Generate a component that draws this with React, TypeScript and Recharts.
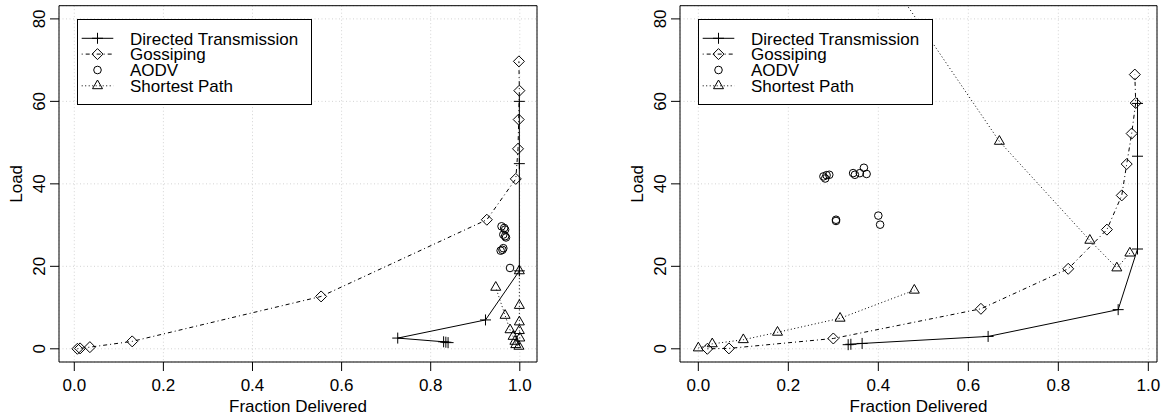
import React from 'react';
import { ScatterChart, Scatter, XAxis, YAxis, CartesianGrid, ReferenceArea, Legend } from 'recharts';

const FONT = '"Liberation Sans", Arial, Helvetica, sans-serif';
const FS = 17;

// ---- ticks / labels ----
const xTicks = [0, 0.2, 0.4, 0.6, 0.8, 1.0];
const yTicks = [0, 20, 40, 60, 80];
const legendLabels = ['Directed Transmission', 'Gossiping', 'AODV', 'Shortest Path'];
const xTitle = 'Fraction Delivered';
const yTitle = 'Load';

// ---- left panel data ----
const dtLeftX = [0.839, 0.834, 0.829, 0.726, 0.923, 0.999, 0.999, 0.999];
const dtLeftY = [1.5, 1.6, 1.7, 2.6, 7.0, 18.9, 44.9, 60.0];
const gosLeftX = [0.007, 0.013, 0.035, 0.13, 0.554, 0.926, 0.991, 0.996, 0.9975, 0.999, 0.998];
const gosLeftY = [0.0, 0.1, 0.4, 1.8, 12.7, 31.3, 41.2, 48.5, 55.6, 62.6, 69.7];
const aodvLeftX = [0.959, 0.965, 0.967, 0.963, 0.969, 0.967, 0.963, 0.961, 0.957, 0.978];
const aodvLeftY = [29.7, 29.3, 28.9, 27.7, 27.0, 27.3, 24.4, 24.0, 23.8, 19.6];
const spLeftX = [0.999, 0.999, 0.999, 0.999, 1.0, 0.998, 0.991, 0.989, 0.985, 0.978, 0.967, 0.946];
const spLeftY = [18.9, 10.5, 6.5, 4.4, 2.6, 0.6, 1.0, 1.8, 3.0, 4.6, 8.1, 14.9];

// ---- right panel data ----
const dtRightX = [0.333, 0.339, 0.364, 0.644, 0.933, 0.976, 0.976, 0.976];
const dtRightY = [1.0, 1.1, 1.3, 3.0, 9.5, 24.2, 46.7, 59.5];
const gosRightX = [0.02, 0.068, 0.3, 0.628, 0.822, 0.908, 0.941, 0.952, 0.963, 0.972, 0.97];
const gosRightY = [0.0, 0.1, 2.5, 9.7, 19.4, 28.9, 37.2, 44.8, 52.2, 59.6, 66.5];
const aodvRightX = [0.278, 0.285, 0.291, 0.282, 0.344, 0.359, 0.368, 0.374, 0.348, 0.306, 0.306, 0.4, 0.404];
const aodvRightY = [41.8, 42.1, 42.2, 41.3, 42.6, 42.6, 43.9, 42.4, 42.2, 31.3, 31.0, 32.3, 30.1];
const spRightAX = [0.0, 0.031, 0.1, 0.176, 0.315, 0.48];
const spRightAY = [0.2, 1.2, 2.2, 4.0, 7.4, 14.2];
const spRightBX = [0.959, 0.93, 0.87, 0.669, 0.36];
const spRightBY = [23.2, 19.6, 26.3, 50.3, 100];

const toPts = (xs: number[], ys: number[]) => xs.map((x, i) => ({ x, y: ys[i] }));

// ---- marker shapes ----
const Plus = (p: any) => (
  <path d={`M${p.cx - 5.5},${p.cy}H${p.cx + 5.5}M${p.cx},${p.cy - 5.5}V${p.cy + 5.5}`} stroke="#000" strokeWidth={1} fill="none" />
);
const Diamond = (p: any) => (
  <path d={`M${p.cx},${p.cy - 5.5}L${p.cx + 5.5},${p.cy}L${p.cx},${p.cy + 5.5}L${p.cx - 5.5},${p.cy}Z`} stroke="#000" strokeWidth={1} fill="none" />
);
const Circ = (p: any) => <circle cx={p.cx} cy={p.cy} r={3.8} stroke="#000" strokeWidth={1} fill="none" />;
const Tri = (p: any) => (
  <path d={`M${p.cx},${p.cy - 5.8}L${p.cx + 5},${p.cy + 2.9}L${p.cx - 5},${p.cy + 2.9}Z`} stroke="#000" strokeWidth={1} fill="none" />
);

const DASHDOT = '1 3 4 3';
const DOT = '1 2.5';

const TOP = 5.7;
const BOTTOM = 362;
const W = 583;
const H = 418;
const Y_DOMAIN: [number, number] = [-3.2, 83.2];

function LegendBox() {
  const rows = [19.3, 35.1, 51, 66.8];
  const base = [25.5, 41.3, 57.2, 73];
  return (
    <svg width={236} height={87} style={{ display: 'block' }}>
      <rect x={0.5} y={0.5} width={234} height={85} fill="#fff" stroke="#000" strokeWidth={1} />
      <line x1={4.7} x2={36.3} y1={rows[0]} y2={rows[0]} stroke="#000" strokeWidth={1} />
      <Plus cx={20.5} cy={rows[0]} />
      <line x1={4.7} x2={36.3} y1={rows[1]} y2={rows[1]} stroke="#000" strokeWidth={1} strokeDasharray={DASHDOT} />
      <Diamond cx={20.5} cy={rows[1]} />
      <Circ cx={20.5} cy={rows[2]} />
      <line x1={4.7} x2={36.3} y1={rows[3]} y2={rows[3]} stroke="#000" strokeWidth={1} strokeDasharray={DOT} />
      <Tri cx={20.5} cy={rows[3]} />
      {legendLabels.map((t, i) => (
        <text key={t} x={53} y={base[i]} fontSize={FS} fontFamily={FONT} fill="#000">{t}</text>
      ))}
    </svg>
  );
}

type PanelProps = {
  left: number;
  plotLeft: number;
  plotRight: number;
  legendLeft: number;
  xDomain: [number, number];
  dt: { x: number; y: number }[];
  gos: { x: number; y: number }[];
  aodv: { x: number; y: number }[];
  sp: { x: number; y: number }[][];
};

function Panel({ left, plotLeft, plotRight, legendLeft, xDomain, dt, gos, aodv, sp }: PanelProps) {
  const yBase = plotLeft - 13.7;
  const titleBase = plotLeft - 37;
  const midY = (TOP + BOTTOM) / 2;
  const midX = (plotLeft + plotRight) / 2;
  return (
    <div style={{ position: 'absolute', left, top: 0, width: W, height: H }}>
      <ScatterChart width={W} height={H} margin={{ top: TOP, right: W - plotRight, bottom: H - BOTTOM - 30, left: plotLeft - 40 }}>
        <CartesianGrid stroke="#d3d3d3" strokeDasharray="1 2.5" />
        <XAxis
          type="number"
          dataKey="x"
          domain={xDomain}
          ticks={xTicks}
          interval={0}
          allowDataOverflow
          height={30}
          tickSize={9}
          axisLine={false}
          tickLine={{ stroke: '#000', strokeWidth: 1 }}
          tick={(p: any) => (
            <text x={p.x} y={391} textAnchor="middle" fontSize={FS} fontFamily={FONT} fill="#000">
              {Number(p.payload.value).toFixed(1)}
            </text>
          )}
          label={{
            content: () => (
              <text x={midX} y={411.7} textAnchor="middle" fontSize={FS} fontFamily={FONT} fill="#000">{xTitle}</text>
            ),
          }}
        />
        <YAxis
          type="number"
          dataKey="y"
          domain={Y_DOMAIN}
          ticks={yTicks}
          interval={0}
          allowDataOverflow
          width={40}
          tickSize={9}
          axisLine={false}
          tickLine={{ stroke: '#000', strokeWidth: 1 }}
          tick={(p: any) => (
            <text x={yBase} y={p.y} transform={`rotate(-90 ${yBase} ${p.y})`} textAnchor="middle" fontSize={FS} fontFamily={FONT} fill="#000">
              {String(p.payload.value)}
            </text>
          )}
          label={{
            content: () => (
              <text x={titleBase} y={midY} transform={`rotate(-90 ${titleBase} ${midY})`} textAnchor="middle" fontSize={FS} fontFamily={FONT} fill="#000">{yTitle}</text>
            ),
          }}
        />
        <ReferenceArea x1={xDomain[0]} x2={xDomain[1]} y1={Y_DOMAIN[0]} y2={Y_DOMAIN[1]} fill="none" fillOpacity={0} stroke="#000" strokeWidth={1} ifOverflow="visible" />
        <Scatter data={dt} isAnimationActive={false} line={{ stroke: '#000', strokeWidth: 1 }} lineType="joint" shape={(p: any) => <Plus {...p} />} legendType="none" />
        <Scatter data={gos} isAnimationActive={false} line={{ stroke: '#000', strokeWidth: 1, strokeDasharray: DASHDOT }} lineType="joint" shape={(p: any) => <Diamond {...p} />} legendType="none" />
        <Scatter data={aodv} isAnimationActive={false} shape={(p: any) => <Circ {...p} />} legendType="none" />
        {sp.map((seg, i) => (
          <Scatter key={i} data={seg} isAnimationActive={false} line={{ stroke: '#000', strokeWidth: 1, strokeDasharray: DOT }} lineType="joint" shape={(p: any) => <Tri {...p} />} legendType="none" />
        ))}
        <Legend
          layout="horizontal"
          verticalAlign="middle"
          align="center"
          content={() => <LegendBox />}
          wrapperStyle={{ position: 'absolute', left: legendLeft, top: 19, width: 236, height: 87, margin: 0, padding: 0 }}
        />
      </ScatterChart>
    </div>
  );
}

export default function App() {
  return (
    <div style={{ position: 'absolute', left: 0, top: 0, width: 1166, height: 418, background: '#fff' }}>
      <Panel
        left={0}
        plotLeft={59}
        plotRight={537}
        legendLeft={77}
        xDomain={[-0.0343, 1.0386]}
        dt={toPts(dtLeftX, dtLeftY)}
        gos={toPts(gosLeftX, gosLeftY)}
        aodv={toPts(aodvLeftX, aodvLeftY)}
        sp={[toPts(spLeftX, spLeftY)]}
      />
      <Panel
        left={583}
        plotLeft={97}
        plotRight={574}
        legendLeft={114.7}
        xDomain={[-0.0407, 1.0193]}
        dt={toPts(dtRightX, dtRightY)}
        gos={toPts(gosRightX, gosRightY)}
        aodv={toPts(aodvRightX, aodvRightY)}
        sp={[toPts(spRightAX, spRightAY), toPts(spRightBX, spRightBY)]}
      />
    </div>
  );
}
